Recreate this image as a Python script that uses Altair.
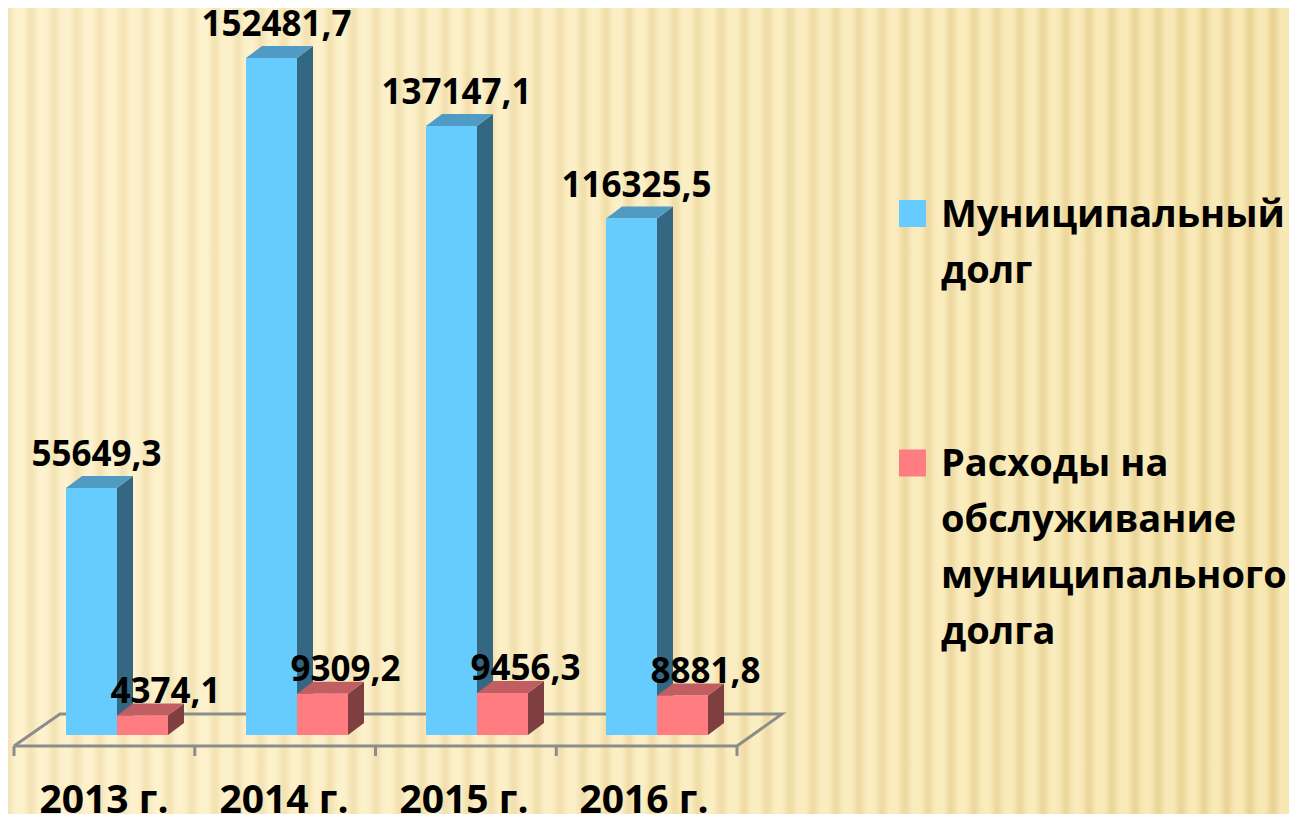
import altair as alt
import pandas as pd
import numpy as np

# ---------------- data ----------------
years = ["2013 г.", "2014 г.", "2015 г.", "2016 г."]
debt = [55649.3, 152481.7, 137147.1, 116325.5]
service = [4374.1, 9309.2, 9456.3, 8881.8]
series_names = ["Муниципальный долг", "Расходы на обслуживание муниципального долга"]
legend_lines = [["Муниципальный", "долг"],
                ["Расходы на", "обслуживание", "муниципального", "долга"]]
front_colors = ["#66CCFF", "#FF7C80"]
side_colors = ["#346781", "#7F3E40"]
top_colors = ["#4F9BC4", "#C05E61"]

# ---------------- layout ----------------
W, H = 1281, 806
PX_CAT = 180.0          # pixels per category
C0_PX = 109.0           # chart-x of first cluster centre
BASE_PX = 727.0         # chart-y of value 0 (front)
MAX_PX = 677.0          # pixel height of the tallest bar
k = MAX_PX / max(debt)  # px per unit
X0 = -C0_PX / PX_CAT
X1 = X0 + W / PX_CAT
Y1 = BASE_PX / k
Y0 = -(H - BASE_PX) / k
BW = 51 / PX_CAT
DX = 16 / PX_CAT
DY = 12 / k

xs = alt.Scale(domain=[X0, X1], nice=False, zero=False)
ys = alt.Scale(domain=[Y0, Y1], nice=False, zero=False)


def X(f):
    return alt.X(f, type="quantitative", scale=xs, axis=None)


def Y(f):
    return alt.Y(f, type="quantitative", scale=ys, axis=None)


def fmt(v):
    return f"{v:.1f}".replace(".", ",")


# ---------------- tables ----------------
bars, sides, tops = [], [], []
for i, yr in enumerate(years):
    for s, vals in enumerate([debt, service]):
        v = vals[i]
        left = i - BW + s * BW
        right = left + BW
        bid = f"{i}-{s}"
        bars.append(dict(bid=bid, left=left, right=right, base=0.0, value=v,
                         vtop=v + DY, lx=(left + right) / 2, s=s,
                         label=fmt(v), front=front_colors[s]))
        sides.append(dict(bid=bid, x=right, lo=0.0, hi=v, col=side_colors[s]))
        sides.append(dict(bid=bid, x=right + DX, lo=DY, hi=v + DY, col=side_colors[s]))
        tops.append(dict(bid=bid, y=v, xa=left, xb=right, col=top_colors[s]))
        tops.append(dict(bid=bid, y=v + DY, xa=left + DX, xb=right + DX, col=top_colors[s]))
bars = pd.DataFrame(bars)
sides = pd.DataFrame(sides)
tops = pd.DataFrame(tops)

# floor (parallelogram)
F0 = -11 / k
F1 = 21 / k
fl, fr = (6 - C0_PX) / PX_CAT, (729 - C0_PX) / PX_CAT
bl, br = (52 - C0_PX) / PX_CAT, (774 - C0_PX) / PX_CAT
floor = pd.DataFrame(dict(x=[fl, fr, br, bl, fl], y=[F0, F0, F1, F1, F0], o=[0, 1, 2, 3, 4]))
ticks = pd.DataFrame(dict(x=list(np.linspace(fl, fr, len(years) + 1))))
ticks["y"] = F0
ticks["y2"] = F0 - 10 / k

cats = pd.DataFrame(dict(i=list(range(len(years))), year=years))

# ---------------- background ----------------
def mix(a, b, t):
    return "#%02x%02x%02x" % tuple(int(round(a[j] + (b[j] - a[j]) * t)) for j in range(3))


def mixt(a, b, t):
    return tuple(a[j] + (b[j] - a[j]) * t for j in range(3))


light_l, light_r = (253, 242, 205), (248, 232, 180)
dark_l, dark_r = (244, 227, 180), (232, 210, 146)
stops = []
N = 520
for j in range(N + 1):
    t = j / N
    s = (0.5 + 0.5 * np.cos(2 * np.pi * t * W / 23.0)) ** 2
    r = t ** 1.6
    lo = mixt(light_l, light_r, r)
    hi = mixt(dark_l, dark_r, r)
    stops.append(alt.GradientStop(offset=t, color=mix(lo, hi, s)))

bg = alt.Chart(pd.DataFrame({"a": [0]})).mark_rect(
    fill=alt.LinearGradient(gradient="linear", stops=stops, x1=0, x2=1, y1=0, y2=0)
).encode(x=alt.value(0), x2=alt.value(W), y=alt.value(0), y2=alt.value(H))

# ---------------- marks ----------------
floor_l = alt.Chart(floor).mark_line(color="#8C8C8C", strokeWidth=3).encode(
    x=X("x"), y=Y("y"), order="o:Q")
ticks_l = alt.Chart(ticks).mark_rule(color="#8C8C8C", strokeWidth=3).encode(
    x=X("x"), y=Y("y"), y2="y2:Q")

side_l = alt.Chart(sides).mark_area(orient="vertical", interpolate="linear").encode(
    x=X("x"), y=Y("hi"), y2="lo:Q", detail="bid:N",
    color=alt.Color("col:N", scale=None))
top_l = alt.Chart(tops).mark_area(orient="horizontal", interpolate="linear").encode(
    y=Y("y"), x=X("xa"), x2="xb:Q", detail="bid:N",
    color=alt.Color("col:N", scale=None))
front_l = alt.Chart(bars).mark_rect().encode(
    x=X("left"), x2="right:Q", y=Y("base"), y2="value:Q",
    color=alt.Color("front:N", scale=None))

lab_kw = dict(font="Open Sans", fontWeight="bold", fontSize=35, color="#000000",
              baseline="alphabetic", align="center")
lab_blue = alt.Chart(bars[bars.s == 0]).mark_text(dx=5, dy=-10, **lab_kw).encode(
    x=X("lx"), y=Y("vtop"), text="label:N")
lab_red = alt.Chart(bars[bars.s == 1]).mark_text(dx=23, dy=-1, **lab_kw).encode(
    x=X("lx"), y=Y("vtop"), text="label:N")

cat_l = alt.Chart(cats).mark_text(font="Open Sans", fontWeight="bold", fontSize=39,
                                  color="#000000", baseline="alphabetic", align="center",
                                  dx=-13).encode(
    x=X("i"), y=alt.value(805), text="year:N")

# ---------------- legend ----------------
leg_sq = []
leg_tx = []
leg_y_sq = [205.5, 455.0]
leg_y_tx = [219.0, 468.0]
for s in range(2):
    leg_sq.append(alt.Chart(pd.DataFrame({"name": [series_names[s]]})).mark_square(
        size=729, color=front_colors[s], opacity=1).encode(
        x=alt.value(904.5), y=alt.value(leg_y_sq[s])))
    leg_tx.append(alt.Chart(pd.DataFrame({"name": [series_names[s]]})).mark_text(
        text=legend_lines[s], font="Open Sans", fontWeight="bold", fontSize=38,
        lineHeight=56, align="left", baseline="alphabetic", color="#000000").encode(
        x=alt.value(933), y=alt.value(leg_y_tx[s])))

chart = alt.layer(bg, floor_l, ticks_l, side_l, top_l, front_l, lab_blue, lab_red,
                  cat_l, *leg_sq, *leg_tx).properties(
    width=W, height=H, autosize=alt.AutoSizeParams(type="none"), padding=0,
    background="#FCEFC8"
).configure_view(stroke=None)

chart.save("out.html", embed_options={"renderer": "svg", "actions": False})
